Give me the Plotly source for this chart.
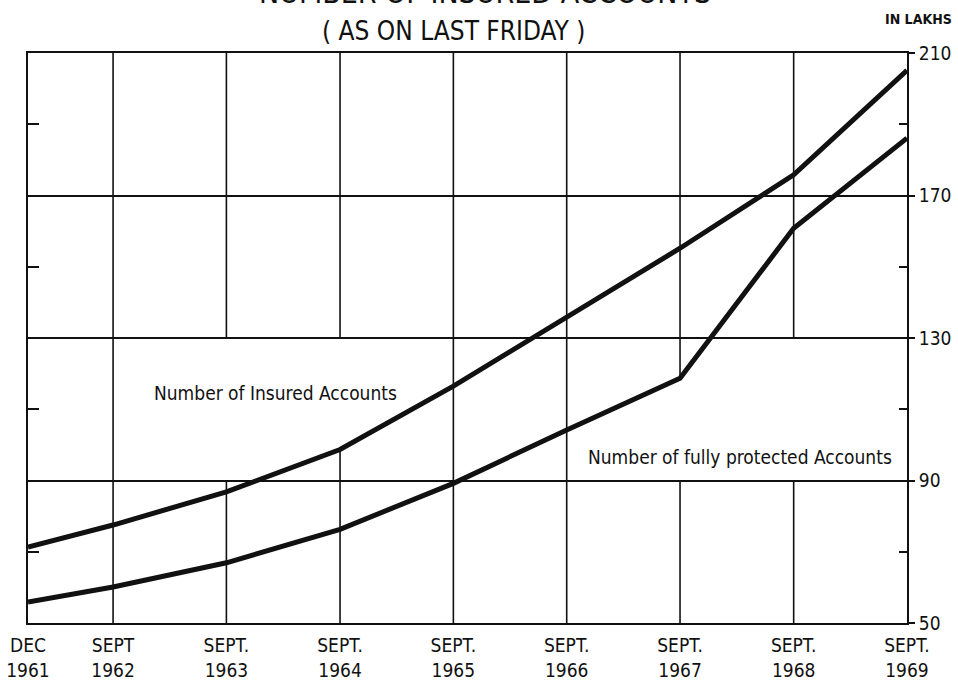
import plotly.graph_objects as go

# ---- data ----
dates = ["1961-12-01", "1962-09-01", "1963-09-01", "1964-09-01", "1965-09-01",
         "1966-09-01", "1967-09-01", "1968-09-01", "1969-09-01"]
tick_text = ["DEC<br>1961", "SEPT<br>1962", "SEPT.<br>1963", "SEPT.<br>1964", "SEPT.<br>1965",
             "SEPT.<br>1966", "SEPT.<br>1967", "SEPT.<br>1968", "SEPT.<br>1969"]
insured = [71.3, 77.5, 86.8, 98.7, 116.5, 135.8, 155.2, 175.8, 205.1]
protected = [55.9, 60.1, 66.9, 76.3, 89.2, 104.2, 118.7, 160.8, 186.1]
y_major = [50, 90, 130, 170, 210]
y_minor = [70, 110, 150, 190]

FONT = "DejaVu Sans Condensed, DejaVu Sans, Liberation Sans Narrow, sans-serif"
INK = "#111111"

fig = go.Figure()
fig.add_trace(go.Scatter(x=dates, y=insured, mode="lines", name="Number of Insured Accounts",
                         line=dict(color=INK, width=5), yaxis="y"))
fig.add_trace(go.Scatter(x=dates, y=protected, mode="lines", name="Number of fully protected Accounts",
                         line=dict(color=INK, width=5), yaxis="y"))

# vertical grid lines (interrupted where the labels sit)
breaks = {
    dates[2]: (y_major[1], y_major[2]),
    dates[3]: (insured[3], y_major[2]),
    dates[6]: (y_major[1], protected[6]),
    dates[7]: (y_major[1], y_major[2]),
}
shapes = []
for d in dates[1:-1]:
    if d in breaks:
        lo, hi = breaks[d]
        segs = [(y_major[0], lo), (hi, y_major[-1])]
    else:
        segs = [(y_major[0], y_major[-1])]
    for a, b in segs:
        shapes.append(dict(type="line", xref="x", yref="y", x0=d, x1=d, y0=a, y1=b,
                           layer="below", line=dict(color=INK, width=1.6)))

fig.update_layout(
    width=958, height=687,
    margin=dict(l=28, r=51, t=53, b=64, autoexpand=False),
    paper_bgcolor="white", plot_bgcolor="white",
    showlegend=False,
    font=dict(family=FONT, color=INK),
    shapes=shapes,
    xaxis=dict(type="date", range=[dates[0], dates[-1]], tickvals=dates, ticktext=tick_text,
               showgrid=False, zeroline=False, ticks="", showline=True, linecolor=INK,
               linewidth=2, mirror=True, tickfont=dict(size=19, family=FONT, color=INK),
               ticklabelstandoff=4, automargin=False),
    yaxis=dict(side="right", range=[y_major[0], y_major[-1]], tickvals=y_major,
               ticktext=[str(v) for v in y_major],
               showgrid=True, gridcolor=INK, gridwidth=1.6, zeroline=False,
               ticks="outside", ticklen=6, tickwidth=1.6, tickcolor=INK,
               showline=True, linecolor=INK, linewidth=2, mirror=True, automargin=False,
               tickfont=dict(size=19, family=FONT, color=INK),
               minor=dict(tickvals=y_minor, ticks="inside", ticklen=8, tickwidth=1.6,
                          tickcolor=INK, showgrid=False)),
    yaxis2=dict(overlaying="y", side="left", range=[y_major[0], y_major[-1]], tickvals=y_minor,
                showticklabels=False, showgrid=False, zeroline=False, automargin=False,
                ticks="inside", ticklen=11, tickwidth=1.6, tickcolor=INK, showline=False),
)

# invisible trace to activate the left minor-tick axis
fig.add_trace(go.Scatter(x=[dates[0]], y=[y_major[0]], yaxis="y2", mode="markers",
                         marker=dict(opacity=0), hoverinfo="skip", showlegend=False))

fig.add_annotation(text="NUMBER OF INSURED ACCOUNTS", xref="paper", yref="paper",
                   x=0.52, y=1.0, yshift=41, xanchor="center", yanchor="bottom", showarrow=False,
                   font=dict(size=30, family=FONT, color=INK))
fig.add_annotation(text="( AS ON LAST FRIDAY )", xref="paper", yref="paper",
                   x=0.484, y=1.0, yshift=22, xanchor="center", yanchor="middle", showarrow=False,
                   font=dict(size=26, family=FONT, color=INK))
fig.add_annotation(text="<b>IN LAKHS</b>", xref="paper", yref="paper",
                   x=1.0, xshift=47, y=1.0, yshift=34, xanchor="right", yanchor="middle",
                   showarrow=False, font=dict(size=14, family=FONT, color=INK))
fig.add_annotation(text="Number of Insured Accounts", xref="paper", yref="y",
                   x=0.282, y=114.6, xanchor="center", yanchor="middle", showarrow=False,
                   font=dict(size=19, family=FONT, color=INK))
fig.add_annotation(text="Number of fully protected Accounts", xref="paper", yref="y",
                   x=0.81, y=96.7, xanchor="center", yanchor="middle", showarrow=False,
                   font=dict(size=19, family=FONT, color=INK))

fig.write_html("out.html", config={"displayModeBar": False})

# remove the browser's default page margin so the figure sits at the window's origin
with open("out.html", "r", encoding="utf-8") as f:
    html = f.read()
html = html.replace("<head>", "<head><style>html,body{margin:0;padding:0;}</style>", 1)
with open("out.html", "w", encoding="utf-8") as f:
    f.write(html)
